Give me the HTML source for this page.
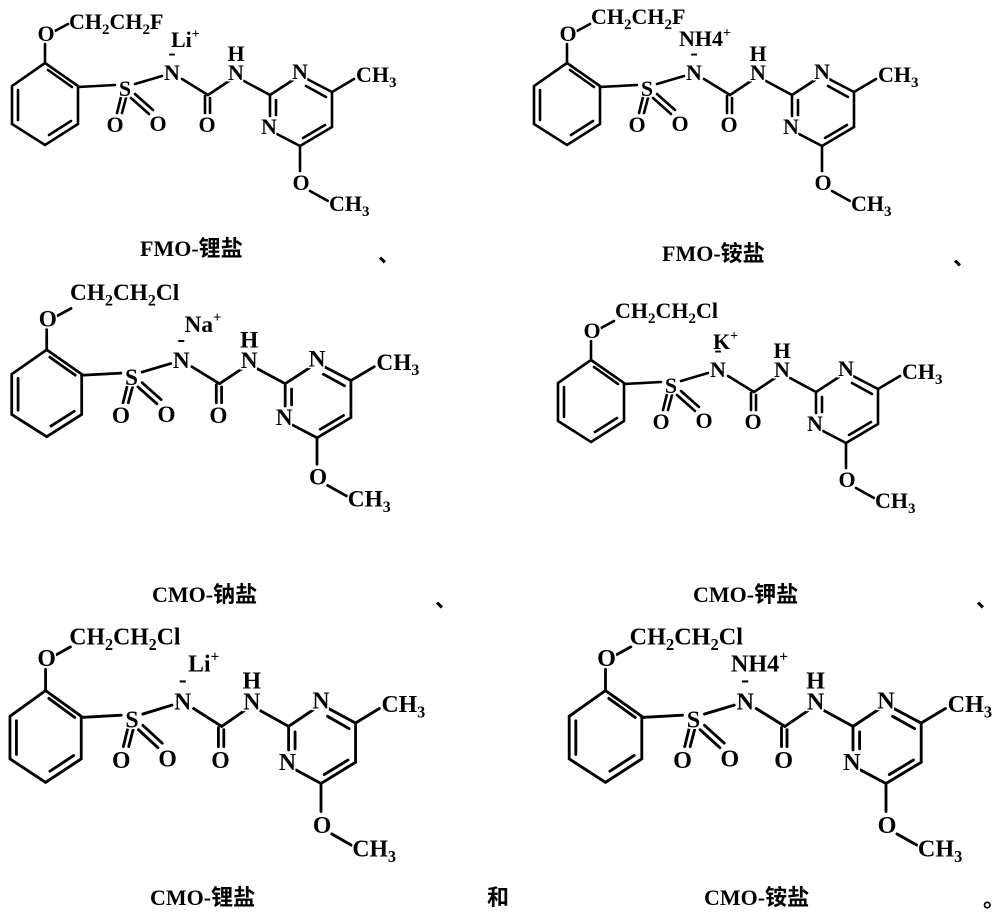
<!DOCTYPE html>
<html><head><meta charset="utf-8"><style>
html,body{margin:0;padding:0;background:#fff;}
svg{display:block;}
text{font-family:"Liberation Serif","Noto Serif CJK SC",serif;font-weight:bold;fill:#000;}
#t text{stroke:#fff;stroke-width:3px;paint-order:stroke;}
.lab{font-family:"Liberation Serif","Noto Sans CJK SC",serif;font-size:22px;}
</style></head><body>
<svg width="1000" height="914" viewBox="0 0 1000 914" xmlns="http://www.w3.org/2000/svg">
<defs>
<g id="b" stroke="#000" stroke-width="2.6" fill="none" stroke-linecap="round">
<polyline points="45,63 78,86 78,124 45,145 12,124 12,86 45,63"/>
<line x1="18" y1="90" x2="18" y2="120"/>
<line x1="71" y1="121" x2="49" y2="135"/>
<line x1="48" y1="70" x2="72" y2="87"/>
<line x1="45" y1="63" x2="45" y2="44"/>
<line x1="55" y1="31" x2="68" y2="24"/>
<line x1="78" y1="87" x2="115" y2="85"/>
<line x1="135" y1="84" x2="162" y2="76"/>
<line x1="182" y1="79" x2="208" y2="95"/>
<line x1="205" y1="96" x2="205" y2="113"/>
<line x1="210" y1="98" x2="210" y2="113"/>
<line x1="121" y1="97" x2="117" y2="113"/>
<line x1="126" y1="98" x2="122" y2="113"/>
<line x1="131" y1="98" x2="149" y2="114"/>
<line x1="135" y1="94" x2="153" y2="110"/>
<line x1="208" y1="95" x2="229" y2="81"/>
<line x1="244" y1="81" x2="270" y2="95"/>
<line x1="270" y1="95" x2="293" y2="80"/>
<line x1="307" y1="79" x2="332" y2="92"/>
<line x1="306" y1="86" x2="326" y2="97"/>
<line x1="332" y1="92" x2="332" y2="127"/>
<line x1="332" y1="127" x2="300" y2="146"/>
<line x1="325" y1="125" x2="303" y2="138"/>
<line x1="300" y1="146" x2="277" y2="134"/>
<line x1="270" y1="95" x2="270" y2="116"/>
<line x1="276" y1="100" x2="276" y2="115"/>
<line x1="332" y1="92" x2="354" y2="79"/>
<line x1="300" y1="146" x2="300" y2="171"/>
<line x1="310" y1="191" x2="328" y2="201"/>
</g>
<g id="t" font-size="22">
<text x="46" y="41" text-anchor="middle">O</text>
<text x="125" y="96" text-anchor="middle">S</text>
<text x="172" y="80" text-anchor="middle">N</text>
<text x="172" y="60" text-anchor="middle">-</text>
<text x="115" y="132" text-anchor="middle">O</text>
<text x="158" y="131" text-anchor="middle">O</text>
<text x="207" y="132" text-anchor="middle">O</text>
<text x="236" y="80" text-anchor="middle">N</text>
<text x="236" y="61" text-anchor="middle">H</text>
<text x="300" y="79" text-anchor="middle">N</text>
<text x="269" y="134" text-anchor="middle">N</text>
<text x="301" y="190" text-anchor="middle">O</text>
<text x="356" y="82">CH<tspan dy="5" font-size="15">3</tspan></text>
<text x="329" y="211">CH<tspan dy="5" font-size="15">3</tspan></text>
</g>
</defs>

<g>
<use href="#b"/><use href="#t"/>
<text x="69" y="29" font-size="22">CH<tspan dy="5" font-size="15">2</tspan><tspan dy="-5">CH</tspan><tspan dy="5" font-size="15">2</tspan><tspan dy="-5">F</tspan></text>
<text x="171" y="47" font-size="22">Li<tspan dy="-9" font-size="14">+</tspan></text>
</g>
<text class="lab" x="140" y="256">FMO-锂盐</text>
<text class="lab" x="378" y="262">、</text>

<g transform="translate(522,0)">
<use href="#b"/><use href="#t"/>
<text x="69" y="24" font-size="22">CH<tspan dy="5" font-size="15">2</tspan><tspan dy="-5">CH</tspan><tspan dy="5" font-size="15">2</tspan><tspan dy="-5">F</tspan></text>
<text x="157" y="46" font-size="22">NH4<tspan dy="-9" font-size="14">+</tspan></text>
</g>
<text class="lab" x="662" y="261">FMO-铵盐</text>
<text class="lab" x="953" y="265">、</text>

<g transform="translate(-1,283) scale(1.06)">
<use href="#b"/><use href="#t"/>
<text x="67" y="16" font-size="22">CH<tspan dy="5" font-size="15">2</tspan><tspan dy="-5">CH</tspan><tspan dy="5" font-size="15">2</tspan><tspan dy="-5">Cl</tspan></text>
<text x="175" y="46" font-size="22">Na<tspan dy="-9" font-size="14">+</tspan></text>
</g>
<text class="lab" x="152" y="602">CMO-钠盐</text>
<text class="lab" x="435" y="607">、</text>

<g transform="translate(546,297)">
<use href="#b"/><use href="#t"/>
<text x="69" y="21" font-size="22">CH<tspan dy="5" font-size="15">2</tspan><tspan dy="-5">CH</tspan><tspan dy="5" font-size="15">2</tspan><tspan dy="-5">Cl</tspan></text>
<text x="167" y="52" font-size="22">K<tspan dy="-9" font-size="14">+</tspan></text>
</g>
<text class="lab" x="693" y="602">CMO-钾盐</text>
<text class="lab" x="976" y="607">、</text>

<g transform="translate(-3,620) scale(1.08,1.12)">
<use href="#b"/><use href="#t"/>
<text x="67" y="22" font-size="22">CH<tspan dy="5" font-size="15">2</tspan><tspan dy="-5">CH</tspan><tspan dy="5" font-size="15">2</tspan><tspan dy="-5">Cl</tspan></text>
<text x="177" y="46" font-size="22">Li<tspan dy="-9" font-size="14">+</tspan></text>
</g>
<text class="lab" x="150" y="905">CMO-锂盐</text>
<text class="lab" x="487" y="905">和</text>

<g transform="translate(556,620) scale(1.1,1.12)">
<use href="#b"/><use href="#t"/>
<text x="67" y="22" font-size="22">CH<tspan dy="5" font-size="15">2</tspan><tspan dy="-5">CH</tspan><tspan dy="5" font-size="15">2</tspan><tspan dy="-5">Cl</tspan></text>
<text x="159" y="46" font-size="22">NH4<tspan dy="-9" font-size="14">+</tspan></text>
</g>
<text class="lab" x="704" y="905">CMO-铵盐</text>
<text class="lab" x="983" y="907">。</text>
</svg>
</body></html>
